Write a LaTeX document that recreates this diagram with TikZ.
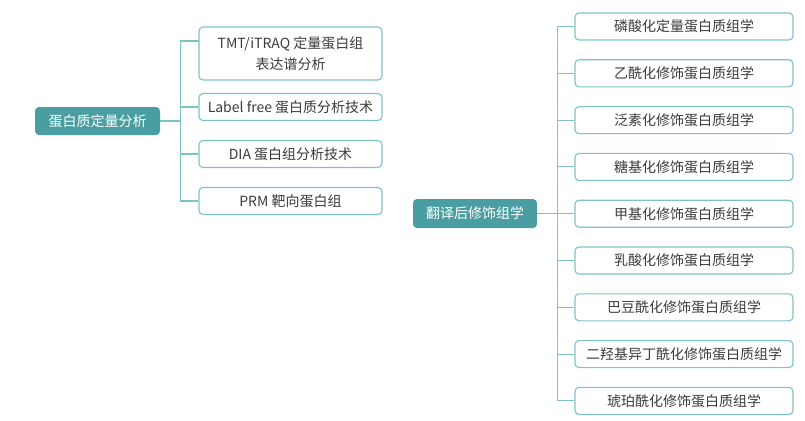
\documentclass[tikz,border=0pt]{standalone}
\usepackage{fontspec}
\setmainfont{Noto Sans CJK SC}
\usetikzlibrary{positioning}
\definecolor{rootfill}{HTML}{4A9EA1}
\definecolor{boxline}{HTML}{7CC3C7}
\definecolor{txt}{HTML}{3C3C3C}

\begin{document}
\begin{tikzpicture}[x=1pt,y=-1pt,
    root node/.style={rectangle,rounded corners=4pt,fill=rootfill,text=white,font=\fontsize{14}{16}\selectfont,inner sep=0pt,minimum height=28pt},
    leaf node/.style={rectangle,rounded corners=4pt,draw=boxline,line width=1.1pt,fill=white,text=txt,font=\fontsize{14}{21}\selectfont,inner sep=0pt,align=center},
    link/.style={-,draw=boxline,line width=1.1pt}]
   \useasboundingbox (0,0) rectangle (805,420);
   % left part
   \node[root node,minimum width=125pt] (lroot) at (97.5,121) {蛋白质定量分析};
   \node[leaf node,minimum width=183pt,minimum height=53pt] (l1) at (290.5,53.5) {TMT/iTRAQ 定量蛋白组\\表达谱分析};
   \node[leaf node,minimum width=183pt,minimum height=27pt] (l2) at (290.5,107) {Label free 蛋白质分析技术};
   \node[leaf node,minimum width=183pt,minimum height=27pt] (l3) at (290.5,154) {DIA 蛋白组分析技术};
   \node[leaf node,minimum width=183pt,minimum height=27pt] (l4) at (290.5,201) {PRM 靶向蛋白组};
   \coordinate (l1c) at (199,41);
   \path[link] (lroot.east) edge[to path={-- ++(20,0) |- (\tikztotarget)}] (l1c);
   \path[link] (lroot.east) edge[to path={-- ++(20,0) |- (\tikztotarget)}] (l2.west);
   \path[link] (lroot.east) edge[to path={-- ++(20,0) |- (\tikztotarget)}] (l3.west);
   \path[link] (lroot.east) edge[to path={-- ++(20,0) |- (\tikztotarget)}] (l4.west);
   % right part
   \node[root node,minimum width=124pt,minimum height=29pt] (rroot) at (475,213.5) {翻译后修饰组学};
   \foreach \txt [count=\i] in {磷酸化定量蛋白质组学,乙酰化修饰蛋白质组学,泛素化修饰蛋白质组学,糖基化修饰蛋白质组学,甲基化修饰蛋白质组学,乳酸化修饰蛋白质组学,巴豆酰化修饰蛋白质组学,二羟基异丁酰化修饰蛋白质组学,琥珀酰化修饰蛋白质组学}{
      \node[leaf node,minimum width=218pt,minimum height=27pt] (r\i) at (684,{26.5+46.8*(\i-1)}) {\txt};
      \path[link] (rroot.east) edge[to path={-- ++(20,0) |- (\tikztotarget)}] (r\i.west);
   }
\end{tikzpicture}
\end{document}
